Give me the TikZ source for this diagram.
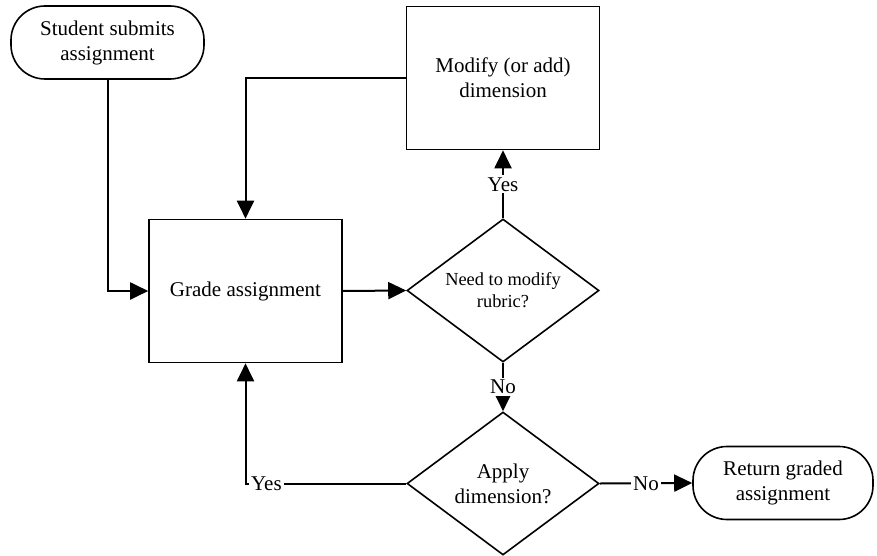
\documentclass[tikz,border=0pt]{standalone}
\usepackage{fontspec}
\setmainfont{Liberation Serif}
\usetikzlibrary{arrows.meta,shapes.geometric,positioning}
\begin{document}
\begin{tikzpicture}[x=0.5pt,y=-0.5pt,
  term/.style={draw,line width=.8pt,rounded corners=17pt,minimum width=\termwd pt,minimum height=36.5pt,inner sep=0pt,align=center,font=\fontsize{10.5}{12.5}\selectfont},
  proc/.style={draw,line width=.8pt,minimum width=96.5pt,minimum height=71.5pt,inner sep=0pt,align=center,font=\fontsize{10.5}{12.5}\selectfont},
  dec/.style={draw,diamond,aspect=1.34,line width=.8pt,minimum width=96pt,minimum height=71.5pt,inner sep=0pt,align=center,font=\fontsize{9.2}{11}\selectfont},
  conn/.style={line width=1pt,-{Triangle[length=9pt,width=8.5pt]}},
  lbl/.style={fill=white,inner sep=1pt,font=\fontsize{10.5}{12.5}\selectfont}]

\def\termwd{96.5}

\useasboundingbox (0,0) rectangle (877,556);

\node[term] (student) at (107.5,42.5) {Student submits\\assignment};
\node[proc] (modify) at (503,78) {Modify (or add)\\dimension};
\node[proc] (grade) at (245.5,291) {Grade assignment};
\node[dec] (need) at (503,290.5) {Need to modify\\rubric?};
\node[dec,font=\fontsize{10.5}{12.5}\selectfont] (apply) at (503,483.5) {Apply\\dimension?};
\node[term,minimum width=90pt] (ret) at (783,483) {Return graded\\assignment};

\draw[conn] (student.south) |- (grade.west);
\draw[conn] (modify.west) -| (grade.north);
\draw[conn] (grade.east) -- (need.west);
\draw[conn] (need.north) -- node[lbl]{Yes} (modify.south);
\draw[conn] (need.south) -- node[lbl]{No} (apply.north);
\draw[conn] (apply.east) -- node[lbl]{No} (ret.west);
\draw[conn] (apply.west) -| node[lbl,pos=.435]{Yes} (grade.south);% label sits at the corner
\end{tikzpicture}
\end{document}
